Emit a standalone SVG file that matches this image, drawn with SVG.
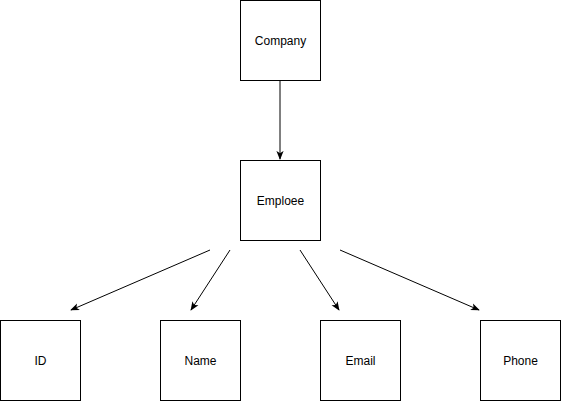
<svg xmlns="http://www.w3.org/2000/svg" width="561" height="401" viewBox="0 0 561 401">
<style>
.box{fill:#fff;stroke:#000;stroke-width:1}
.lbl{font-family:"Liberation Sans",Arial,sans-serif;font-size:12px;fill:#000;text-anchor:middle;dominant-baseline:central}
.edge{stroke:#000;stroke-width:1;fill:none}
</style>
<defs>
<marker id="arr" viewBox="0 0 10 10" refX="9" refY="5" markerWidth="9" markerHeight="9" markerUnits="userSpaceOnUse" orient="auto">
<path d="M0,1 L10,5 L0,9 L2.5,5 Z" fill="#000"/>
</marker>
</defs>
<rect width="561" height="401" fill="#fff"/>
<g id="connectors">
<line class="edge" x1="280" y1="80" x2="280" y2="159" marker-end="url(#arr)"/>
<line class="edge" x1="210" y1="250" x2="71" y2="310" marker-end="url(#arr)"/>
<line class="edge" x1="230" y1="250" x2="191" y2="310" marker-end="url(#arr)"/>
<line class="edge" x1="300" y1="250" x2="339" y2="310" marker-end="url(#arr)"/>
<line class="edge" x1="340" y1="250" x2="479" y2="310" marker-end="url(#arr)"/>
</g>
<g id="company"><rect class="box" x="240.5" y="0.5" width="80" height="80"/><text class="lbl" x="280.5" y="40.5">Company</text></g>
<g id="emploee"><rect class="box" x="240.5" y="160.5" width="80" height="80"/><text class="lbl" x="280.5" y="200.5">Emploee</text></g>
<g id="id"><rect class="box" x="0.5" y="320.5" width="80" height="80"/><text class="lbl" x="40.5" y="360.5">ID</text></g>
<g id="name"><rect class="box" x="160.5" y="320.5" width="80" height="80"/><text class="lbl" x="200.5" y="360.5">Name</text></g>
<g id="email"><rect class="box" x="320.5" y="320.5" width="80" height="80"/><text class="lbl" x="360.5" y="360.5">Email</text></g>
<g id="phone"><rect class="box" x="480.5" y="320.5" width="80" height="80"/><text class="lbl" x="520.5" y="360.5">Phone</text></g>
</svg>
